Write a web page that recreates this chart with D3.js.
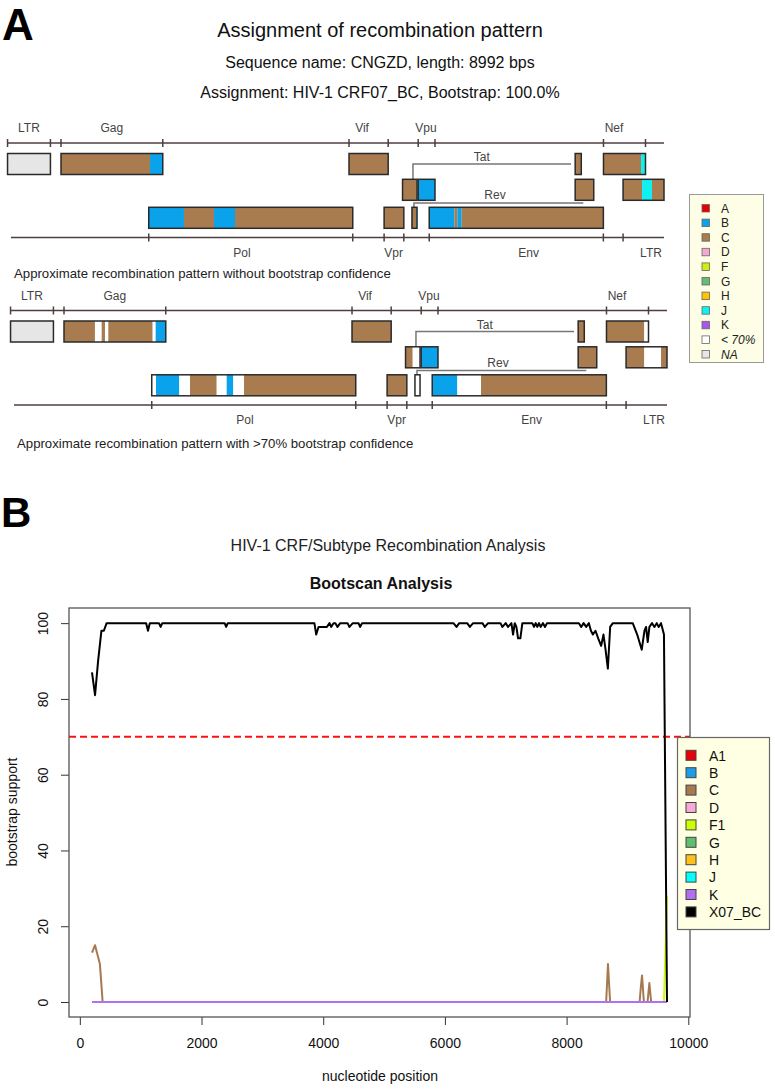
<!DOCTYPE html>
<html><head><meta charset="utf-8">
<script src="https://cdn.jsdelivr.net/npm/d3@7"></script>
<style>
body{margin:0;background:#fff}
svg{display:block}
text{font-family: Arial, "Liberation Sans", Helvetica, sans-serif}
</style>
</head><body>
<svg id="chart" width="775" height="1091"></svg>
<script>
// ================= DATA =================
// Panel A texts
const titleLines = ["Assignment of recombination pattern",
  "Sequence name: CNGZD, length: 8992 bps",
  "Assignment: HIV-1 CRF07_BC, Bootstrap: 100.0%"];
const mapCaptions = ["Approximate recombination pattern without bootstrap confidence",
  "Approximate recombination pattern with >70% bootstrap confidence"];

// Panel A legend
const subtypeKeys   = ["A","B","C","D","F","G","H","J","K","U","NA"];
const subtypeLabels = ["A","B","C","D","F","G","H","J","K","< 70%","NA"];
const subtypeColors = ["#e60000","#0aa2ea","#a97c50","#f5a8d6","#ccee11","#66bb77","#ffc400","#11f0f0","#aa55ee","#ffffff","#e6e6e6"];

// Gene boxes: [row, start nt, end nt] (HXB2 coordinates)
const geneBoxes = [[0,1,634],[0,790,2292],[0,5041,5619],[0,8379,8469],[0,8797,9417],
  [1,5831,6045],[1,6062,6310],[1,8379,8653],[1,9086,9690],
  [2,2085,5096],[2,5559,5850],[2,5970,6045],[2,6225,8795]];
const topTicks    = [1,634,790,2292,5041,5619,6062,6310,8797,9417];
const bottomTicks = [2085,5096,5559,5850,6225,8795,9086];
const topGeneLabels    = [["LTR",317],["Gag",1541],["Vif",5233],["Vpu",6177],["Nef",8952]];
const bottomGeneLabels = [["Pol",3462],["Vpr",5700],["Env",7693],["LTR",9498]];
const genomeLine = [1, 9690];
const bottomLineStart = 52;
// brackets: Tat (x from, x to), Rev (x from, x to)
const tatBracket = [5985, 8318];
const revBracket = [6000, 8499];

// Recombination segments: [row, start, end, subtype]
const map1Segments = [
  [0,1,634,"NA"],
  [0,790,2104,"C"],[0,2104,2292,"B"],
  [0,5041,5619,"C"],
  [0,8379,8469,"C"],
  [0,8797,9351,"C"],[0,9351,9417,"J"],
  [1,5831,6045,"C"],
  [1,6062,6310,"B"],
  [1,8379,8653,"C"],
  [1,9086,9366,"C"],[1,9366,9513,"J"],[1,9513,9690,"C"],
  [2,2085,2605,"B"],[2,2605,3048,"C"],[2,3048,3358,"B"],[2,3358,5096,"C"],
  [2,5559,5850,"C"],
  [2,5970,6030,"C"],[2,6030,6045,"B"],
  [2,6225,6596,"B"],[2,6596,6640,"C"],[2,6640,6704,"B"],[2,6704,8795,"C"]
];
const map2Segments = [
  [0,1,634,"NA"],
  [0,790,1247,"C"],[0,1247,1346,"U"],[0,1346,1395,"C"],[0,1395,1444,"U"],[0,1444,2099,"C"],[0,2099,2143,"U"],[0,2143,2292,"B"],
  [0,5041,5619,"C"],
  [0,8379,8469,"C"],
  [0,8797,9355,"C"],[0,9355,9417,"U"],
  [1,5831,5937,"C"],[1,5937,6045,"U"],
  [1,6062,6310,"B"],
  [1,8379,8653,"C"],
  [1,9086,9355,"C"],[1,9355,9602,"U"],[1,9602,9690,"C"],
  [2,2085,2148,"U"],[2,2148,2492,"B"],[2,2492,2650,"U"],[2,2650,3044,"C"],[2,3044,3191,"U"],[2,3191,3289,"B"],[2,3289,3447,"U"],[2,3447,5096,"C"],
  [2,5559,5850,"C"],
  [2,5970,6045,"U"],
  [2,6225,6596,"B"],[2,6596,6945,"U"],[2,6945,8795,"C"]
];

// Panel B texts
const panelBTitle = "HIV-1 CRF/Subtype Recombination Analysis";
const bootTitle = "Bootscan Analysis";
const xTicks = [0,2000,4000,6000,8000,10000];
const yTicks = [0,20,40,60,80,100];
const threshold = 70;

// Bootscan series: [nucleotide position, bootstrap support]
const seriesNames  = ["A1","B","C","D","F1","G","H","J","K","X07_BC"];
const seriesColors = ["#e8000b","#1e9be9","#a67a50","#f7a9d9","#ccff00","#5fbf6f","#ffc21a","#00ffff","#b070f0","#000000"];
const sA1 = [[200,0],[9650,0]];
const sB  = [[200,0],[9650,0]];
const sC  = [[200,13],[250,15],[330,10],[375,0],[8650,0],[8680,10],[8715,0],[9200,0],[9220,4],[9240,7],[9270,0],[9330,0],[9360,5],[9390,0],[9650,0]];
const sD  = [[200,0],[9650,0]];
const sF1 = [[200,0],[9600,0],[9650,28]];
const sG  = [[200,0],[9650,0]];
const sH  = [[200,0],[9650,0]];
const sJ  = [[200,0],[9650,0]];
const sK  = [[200,0],[9650,0]];
const sX07 = [[200,87],[250,81],[300,90],[355,98],[395,98],[440,100],
  [1090,100],[1120,98],[1150,100],
  [1300,100],[1328,99],[1355,100],
  [2380,100],[2405,99],[2430,100],
  [3855,100],[3885,97],[3923,99],[4061,99],[4104,100],[4131,99],[4169,100],[4200,100],[4235,99],[4279,100],[4400,100],[4431,99],[4486,100],[4580,100],[4606,99],[4639,100],
  [6140,100],[6191,99],[6235,100],
  [6366,100],[6410,99],[6464,100],
  [6617,100],[6656,99],[6710,100],
  [6913,100],[6945,99],[6999,100],[7038,99],[7093,100],[7120,97],[7148,100],[7175,99],[7202,96],[7240,96],[7273,100],
  [7437,100],[7464,99],[7492,100],[7519,99],[7546,100],[7573,99],[7612,100],[7645,99],[7678,100],
  [8202,100],[8240,99],[8279,100],[8322,99],[8366,100],[8400,98],[8432,97],[8475,98],[8519,96],[8568,94],[8606,97],[8640,93],[8678,88],[8716,99],[8760,100],
  [9087,100],[9160,97],[9235,93],[9280,98],[9306,99],[9333,95],[9361,99],[9405,100],[9443,99],[9481,100],[9514,99],[9552,100],[9600,97],[9650,0]];
const seriesData = [sA1,sB,sC,sD,sF1,sG,sH,sJ,sK,sX07];

// ================= DRAW =================
const svg = d3.select("#chart");
const FONT = "Arial, 'Liberation Sans', Helvetica, sans-serif";

// panel letters
svg.append("text").attr("x",2).attr("y",40).attr("font-size",44).attr("font-weight","bold").attr("fill","#000").text("A");
svg.append("text").attr("x",1).attr("y",527).attr("font-size",42).attr("font-weight","bold").attr("fill","#000").text("B");

// Panel A titles
const titleSizes = [20,16,16];
const titleY = [37,67.5,97.5];
titleLines.forEach((t,i)=>{
  svg.append("text").attr("x",380).attr("y",titleY[i]).attr("text-anchor","middle")
    .attr("font-size",titleSizes[i]).attr("fill","#111").text(t);
});

// gene map scale
const gx = d3.scaleLinear().domain([790, 9417]).range([61, 645.5]);
const rowY = [153.5, 179.3, 207.3];
const rowH = 21;
const topLineY = 143, bottomLineY = 237.5;
const colorOf = k => subtypeColors[subtypeKeys.indexOf(k)];
const lineCol = "#4e3e3e";

function drawMap(g, segs, caption, captionY){
  g.append("line").attr("x1",gx(genomeLine[0])).attr("x2",gx(genomeLine[1]))
    .attr("y1",topLineY).attr("y2",topLineY).attr("stroke",lineCol).attr("stroke-width",1.5);
  g.selectAll(".tt").data(topTicks).enter().append("line")
    .attr("x1",d=>gx(d)).attr("x2",d=>gx(d)).attr("y1",topLineY-4).attr("y2",topLineY+4)
    .attr("stroke",lineCol).attr("stroke-width",1.5);
  g.selectAll(".tl").data(topGeneLabels).enter().append("text")
    .attr("x",d=>gx(d[1])).attr("y",topLineY-11).attr("text-anchor","middle")
    .attr("font-size",12).attr("fill","#444").text(d=>d[0]);
  g.append("line").attr("x1",gx(bottomLineStart)).attr("x2",gx(genomeLine[1]))
    .attr("y1",bottomLineY).attr("y2",bottomLineY).attr("stroke",lineCol).attr("stroke-width",1.5);
  g.selectAll(".bt").data(bottomTicks).enter().append("line")
    .attr("x1",d=>gx(d)).attr("x2",d=>gx(d)).attr("y1",bottomLineY-4).attr("y2",bottomLineY+4)
    .attr("stroke",lineCol).attr("stroke-width",1.5);
  g.selectAll(".bl").data(bottomGeneLabels).enter().append("text")
    .attr("x",d=>gx(d[1])).attr("y",bottomLineY+19).attr("text-anchor","middle")
    .attr("font-size",12).attr("fill","#444").text(d=>d[0]);
  g.append("path").attr("d",`M${gx(tatBracket[0])},${rowY[1]} V${164} H${gx(tatBracket[1])}`)
    .attr("fill","none").attr("stroke","#777").attr("stroke-width",1.5);
  g.append("text").attr("x",gx(7000)).attr("y",161).attr("text-anchor","middle")
    .attr("font-size",12).attr("fill","#444").text("Tat");
  g.append("path").attr("d",`M${gx(revBracket[0])},${rowY[2]} V${203} H${gx(revBracket[1])}`)
    .attr("fill","none").attr("stroke","#777").attr("stroke-width",1.5);
  g.append("text").attr("x",gx(7196)).attr("y",199).attr("text-anchor","middle")
    .attr("font-size",12).attr("fill","#444").text("Rev");
  g.selectAll(".seg").data(segs).enter().append("rect")
    .attr("x",d=>gx(d[1])).attr("width",d=>gx(d[2])-gx(d[1]))
    .attr("y",d=>rowY[d[0]]).attr("height",rowH)
    .attr("fill",d=>colorOf(d[3]));
  g.selectAll(".box").data(geneBoxes).enter().append("rect")
    .attr("x",d=>gx(d[1])).attr("width",d=>gx(d[2])-gx(d[1]))
    .attr("y",d=>rowY[d[0]]).attr("height",rowH)
    .attr("fill","none").attr("stroke","#2a2a2a").attr("stroke-width",1.5);
  g.append("text").attr("x",14).attr("y",captionY).attr("font-size",13.2).attr("fill","#222")
    .text(caption);
}
drawMap(svg.append("g"), map1Segments, mapCaptions[0], 277.5);
drawMap(svg.append("g").attr("transform","translate(3,167.5)"), map2Segments, mapCaptions[1], 280);

// Panel A legend
const legA = svg.append("g");
legA.append("rect").attr("x",689.5).attr("y",194.5).attr("width",74).attr("height",168)
  .attr("fill","#fefee6").attr("stroke","#999").attr("stroke-width",1);
subtypeLabels.forEach((lab,i)=>{
  const y = 208.3 + i*14.6;
  legA.append("rect").attr("x",702).attr("y",y-3.8).attr("width",7.5).attr("height",7.5)
    .attr("fill",subtypeColors[i]).attr("stroke","#666").attr("stroke-width",0.8);
  legA.append("text").attr("x",721).attr("y",y+4.2).attr("font-size",12).attr("fill","#222")
    .attr("font-style", i>=9 ? "italic" : "normal").text(lab);
});

// ================= Panel B =================
svg.append("text").attr("x",388).attr("y",550.5).attr("text-anchor","middle").attr("font-size",16).attr("fill","#222").text(panelBTitle);
svg.append("text").attr("x",381).attr("y",589).attr("text-anchor","middle").attr("font-size",16).attr("font-weight","bold").attr("fill","#111").text(bootTitle);

const xMin = 200, xMax = 9650;
const pad = 0.04*(xMax-xMin);
const bx = d3.scaleLinear().domain([xMin-pad, xMax+pad]).range([69, 690]);
const by = d3.scaleLinear().domain([-4,104]).range([1017.15,608]);

const xAxis = svg.append("g").attr("transform","translate(0,1017)")
  .call(d3.axisBottom(bx).tickValues(xTicks).tickSize(8).tickSizeOuter(0).tickPadding(13).tickFormat(d3.format("d")));
xAxis.select(".domain").remove();
xAxis.selectAll("line").attr("stroke","#333");
xAxis.selectAll("text").attr("font-size",14).attr("font-family",FONT).attr("fill","#111");

const yAxis = svg.append("g").attr("transform","translate(69,0)")
  .call(d3.axisLeft(by).tickValues(yTicks).tickSize(8).tickSizeOuter(0));
yAxis.select(".domain").remove();
yAxis.selectAll("line").attr("stroke","#333");
yAxis.selectAll("text").attr("font-size",14).attr("font-family",FONT).attr("fill","#111")
  .attr("x",0).attr("y",-21).attr("dy",0).attr("text-anchor","middle").attr("transform","rotate(-90)");

svg.append("text").attr("x",380).attr("y",1081).attr("text-anchor","middle").attr("font-size",14).attr("fill","#111").text("nucleotide position");
svg.append("text").attr("transform","translate(17,812) rotate(-90)").attr("text-anchor","middle").attr("font-size",14).attr("fill","#111").text("bootstrap support");

svg.append("line").attr("x1",69).attr("x2",690).attr("y1",by(threshold)).attr("y2",by(threshold))
  .attr("stroke","#ff1010").attr("stroke-width",2).attr("stroke-dasharray","7,4");

const line = d3.line().x(d=>bx(d[0])).y(d=>by(d[1]));
seriesData.forEach((s,i)=>{
  svg.append("path").datum(s).attr("d",line).attr("fill","none")
    .attr("stroke",seriesColors[i]).attr("stroke-width",2).attr("stroke-linejoin","round");
});

svg.append("rect").attr("x",69).attr("y",608).attr("width",621).attr("height",409)
  .attr("fill","none").attr("stroke","#555").attr("stroke-width",1.3);

const legB = svg.append("g");
legB.append("rect").attr("x",677.5).attr("y",737.5).attr("width",92).attr("height",192)
  .attr("fill","#ffffe3").attr("stroke","#666").attr("stroke-width",1.2);
seriesNames.forEach((n,i)=>{
  const y = 755.3 + i*17.4;
  legB.append("rect").attr("x",686).attr("y",y-5).attr("width",10).attr("height",10)
    .attr("fill",seriesColors[i]).attr("stroke","#444").attr("stroke-width",1);
  legB.append("text").attr("x",709).attr("y",y+5.2).attr("font-size",14).attr("fill","#111").text(n);
});
</script>
</body></html>
